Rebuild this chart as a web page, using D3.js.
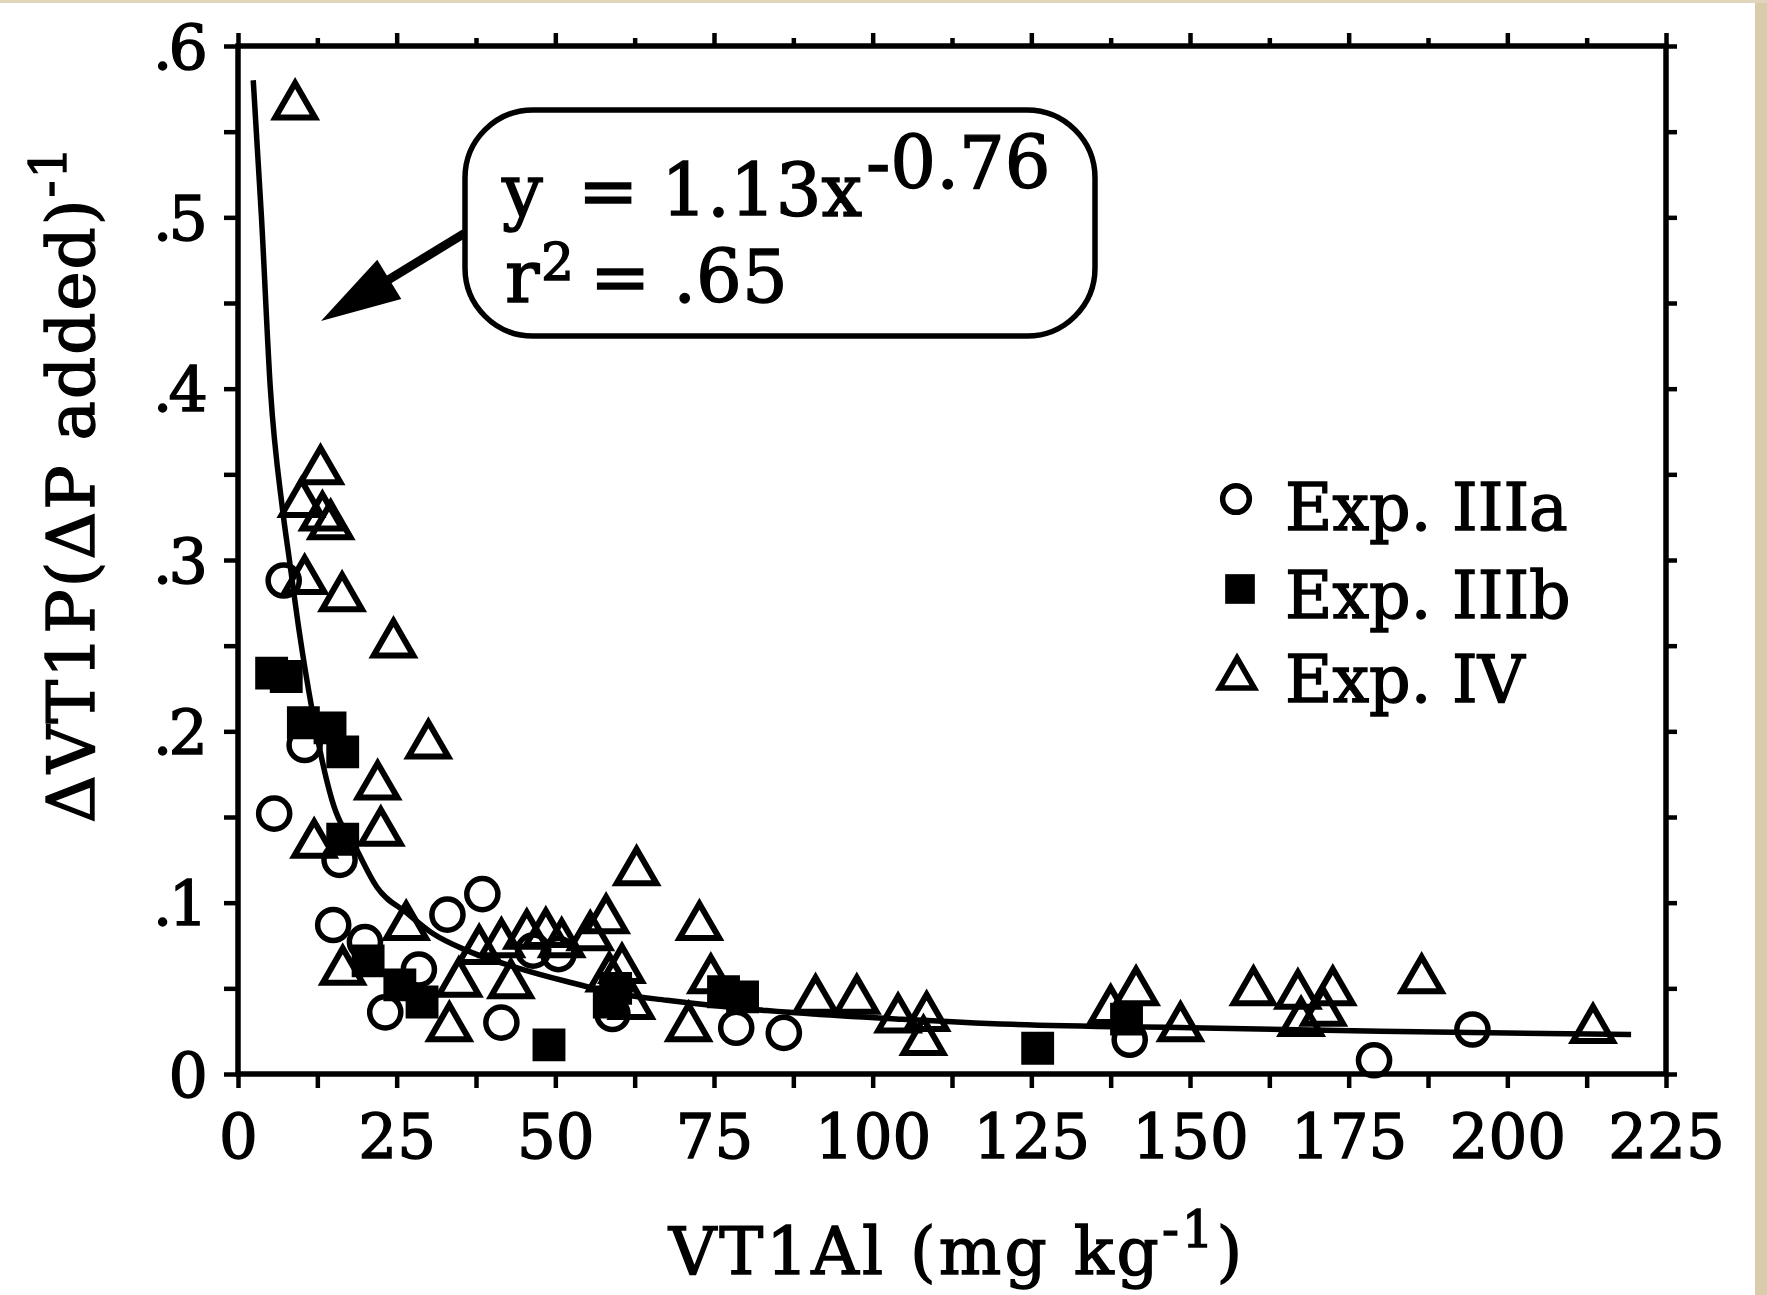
<!DOCTYPE html>
<html>
<head>
<meta charset="utf-8">
<script src="https://cdn.jsdelivr.net/npm/d3@7"></script>
<style>
	body { margin: 0; background: #fff; }
	svg text { font-family: "DejaVu Serif", serif; fill: #000; stroke: #000; stroke-width: 1.4px; }
</style>
</head>
<body>
<div id="chart-area"></div>
<script>

// SVG Size
let width = 1767,
	height = 1295;

// Data: [VT1Al, ΔVT1P(ΔP added)^-1]
let expIIIa = [
	[7.2, .288], [10.5, .192], [5.7, .152], [16.0, .125], [15.0, .087], [20.0, .077],
	[23.2, .036], [28.5, .061], [33.0, .093], [38.5, .105], [41.5, .030], [46.5, .072],
	[50.5, .070], [59.0, .035], [78.5, .027], [86.0, .024], [140.5, .020], [179.0, .008],
	[194.5, .026]
];
let expIIIb = [
	[5.3, .234], [7.6, .232], [10.3, .205], [14.5, .202], [16.5, .188], [16.5, .137],
	[20.5, .066], [25.5, .052], [29.0, .042], [49.0, .017], [58.5, .042], [59.5, .050],
	[76.5, .048], [79.5, .045], [126.0, .015], [140.0, .032]
];
let expIV = [
	[9.0, .565], [13.0, .352], [10.0, .333], [13.3, .325], [14.6, .320], [10.5, .288],
	[16.4, .278], [24.5, .251], [30.0, .192], [22.0, .168], [22.5, .141], [12.0, .134],
	[62.8, .118], [58.0, .090], [72.7, .086], [26.5, .086], [55.5, .080], [16.5, .060],
	[34.8, .053], [33.3, .027], [38.0, .072], [41.5, .076], [45.5, .081], [48.5, .082],
	[51.0, .076], [43.0, .052], [60.5, .061], [62.0, .040], [58.5, .056], [71.0, .027],
	[74.5, .055], [91.0, .043], [97.5, .043], [104.0, .032], [108.5, .033], [108.0, .019],
	[137.5, .037], [141.5, .048], [148.5, .027], [160.0, .048], [167.0, .046], [167.5, .030],
	[171.0, .036], [172.5, .048], [186.5, .055], [213.5, .026]
];
// fitted curve y = 1.13x^-0.76 as drawn in the figure
let fitCurve = [
	[2.4, .580], [3.7, .500], [5.1, .400], [7.0, .330], [8.1, .300], [9.7, .257],
	[11.6, .214], [14.8, .160], [18.7, .131], [21.9, .109], [26.6, .094], [30.7, .082],
	[36.1, .072], [44.0, .062], [51.8, .054], [59.7, .047], [67.6, .043], [83.3, .037],
	[104.6, .032], [122, .029], [150, .027], [180, .025], [219.5, .023]
];

let xTickLabels = [0, 25, 50, 75, 100, 125, 150, 175, 200, 225];
let xMinorTicks = [12.5, 37.5, 62.5, 87.5, 112.5, 137.5, 162.5, 187.5, 212.5];
let yTickLabels = [0, .1, .2, .3, .4, .5, .6];
let yMinorTicks = [.05, .15, .25, .35, .45, .55];
let legendLabels = ["Exp. IIIa", "Exp. IIIb", "Exp. IV"];

let plot = {left: 238, right: 1666, top: 46, bottom: 1074};

let svg = d3.select("#chart-area").append("svg")
	.attr("width", width)
	.attr("height", height);

svg.append("rect")
	.attr("width", width)
	.attr("height", height)
	.attr("fill", "#fff");

// scanned page edge
svg.append("rect")
	.attr("x", 1755).attr("y", 0)
	.attr("width", 12).attr("height", height)
	.attr("fill", "#d8ccab");
svg.append("rect")
	.attr("x", 0).attr("y", 0)
	.attr("width", width).attr("height", 3)
	.attr("fill", "#e0d6bb");

let XScale = d3.scaleLinear()
	.domain([0, 225])
	.range([plot.left, plot.right]);
let YScale = d3.scaleLinear()
	.domain([0, .6])
	.range([plot.bottom, plot.top]);

let allX = xTickLabels.concat(xMinorTicks).sort((a, b) => a - b);
let allY = yTickLabels.concat(yMinorTicks).sort((a, b) => a - b);

function yFmt(d) {
	if (d === 0) return "0";
	return "." + Math.round(d * 10);
}

//The Axis
let xAxis = d3.axisBottom(XScale)
	.tickValues(allX)
	.tickSize(14)
	.tickSizeOuter(0)
	.tickFormat(d => xTickLabels.includes(d) ? d : "");
let xAxisTop = d3.axisTop(XScale)
	.tickValues(allX)
	.tickSizeOuter(0)
	.tickFormat("");
let yAxis = d3.axisLeft(YScale)
	.tickValues(allY)
	.tickSize(14)
	.tickSizeOuter(0)
	.tickFormat(d => yTickLabels.includes(d) ? yFmt(d) : "");
let yAxisRight = d3.axisRight(YScale)
	.tickValues(allY)
	.tickSize(11)
	.tickSizeOuter(0)
	.tickFormat("");

let gx = svg.append("g")
	.attr("class", "axis x-axis")
	.attr("transform", "translate(0," + plot.bottom + ")")
	.call(xAxis);
gx.selectAll("text")
	.attr("y", 84)
	.attr("dy", null)
	.style("font-size", "61px");

let gxt = svg.append("g")
	.attr("class", "axis x-axis-top")
	.attr("transform", "translate(0," + plot.top + ")")
	.call(xAxisTop);
gxt.selectAll(".tick line")
	.attr("y2", d => xTickLabels.includes(d) ? -13 : -8);

let gy = svg.append("g")
	.attr("class", "axis y-axis")
	.attr("transform", "translate(" + plot.left + ",0)")
	.call(yAxis);
gy.selectAll("text")
	.attr("x", -34)
	.attr("dy", "0.36em")
	.style("font-size", "62px")
	.style("letter-spacing", "-4px");

svg.append("g")
	.attr("class", "axis y-axis-right")
	.attr("transform", "translate(" + plot.right + ",0)")
	.call(yAxisRight);

svg.selectAll(".axis .domain").remove();
svg.selectAll(".axis .tick line")
	.attr("stroke", "#000")
	.attr("stroke-width", 4.5);

svg.append("rect")
	.attr("x", plot.left)
	.attr("y", plot.top)
	.attr("width", plot.right - plot.left)
	.attr("height", plot.bottom - plot.top)
	.attr("fill", "none")
	.attr("stroke", "#000")
	.attr("stroke-width", 5.5);

// fitted curve
let line = d3.line()
	.x(d => XScale(d[0]))
	.y(d => YScale(d[1]))
	.curve(d3.curveMonotoneX);

svg.append("path")
	.datum(fitCurve)
	.attr("d", line)
	.attr("fill", "none")
	.attr("stroke", "#000")
	.attr("stroke-width", 5.5);

// markers
let circleSym = d3.symbol().type(d3.symbolCircle).size(760);
let squareSym = d3.symbol().type(d3.symbolSquare).size(1080);
let triSym = d3.symbol().type(d3.symbolTriangle).size(680);

svg.append("g").selectAll("path").data(expIIIa)
	.enter().append("path")
	.attr("d", circleSym)
	.attr("transform", d => "translate(" + XScale(d[0]) + "," + YScale(d[1]) + ")")
	.attr("fill", "none")
	.attr("stroke", "#000")
	.attr("stroke-width", 5.5);

svg.append("g").selectAll("path").data(expIV)
	.enter().append("path")
	.attr("d", triSym)
	.attr("transform", d => "translate(" + XScale(d[0]) + "," + YScale(d[1]) + ")")
	.attr("fill", "none")
	.attr("stroke", "#000")
	.attr("stroke-width", 6)
	.attr("stroke-linejoin", "miter");

svg.append("g").selectAll("path").data(expIIIb)
	.enter().append("path")
	.attr("d", squareSym)
	.attr("transform", d => "translate(" + XScale(d[0]) + "," + YScale(d[1]) + ")")
	.attr("fill", "#000");

// equation box
svg.append("rect")
	.attr("x", 465).attr("y", 110)
	.attr("width", 630).attr("height", 226)
	.attr("rx", 68).attr("ry", 68)
	.attr("fill", "#fff")
	.attr("stroke", "#000")
	.attr("stroke-width", 5.5);

let eq = svg.append("text").style("font-size", "72px");
eq.append("tspan").attr("x", 502).attr("y", 216).text("y");
eq.append("tspan").attr("x", 578).attr("y", 216).text("= 1.13x");
eq.append("tspan").attr("x", 866).attr("y", 188).text("-0.76");

let r2 = svg.append("text").style("font-size", "72px");
r2.append("tspan").attr("x", 505).attr("y", 302).text("r");
r2.append("tspan").attr("x", 541).attr("y", 280).style("font-size", "52px").text("2");
r2.append("tspan").attr("x", 590).attr("y", 302).text("= .65");

// arrow from box to curve
let tail = [465, 233],
	tip = [321, 321];
let len = Math.hypot(tail[0] - tip[0], tail[1] - tip[1]);
let ux = (tail[0] - tip[0]) / len,
	uy = (tail[1] - tip[1]) / len;
let headLen = 80,
	headW = 46;
let base = [tip[0] + ux * headLen, tip[1] + uy * headLen];

svg.append("line")
	.attr("x1", tail[0]).attr("y1", tail[1])
	.attr("x2", base[0] + ux * -10).attr("y2", base[1] + uy * -10)
	.attr("stroke", "#000")
	.attr("stroke-width", 9);

svg.append("path")
	.attr("d", "M" + tip[0] + "," + tip[1] +
		"L" + (base[0] - uy * headW / 2) + "," + (base[1] + ux * headW / 2) +
		"L" + (base[0] + uy * headW / 2) + "," + (base[1] - ux * headW / 2) + "Z")
	.attr("fill", "#000");

// legend
let legendRows = [
	{sym: d3.symbol().type(d3.symbolCircle).size(560), fill: "none", cx: 1236, cy: 499, ty: 530},
	{sym: d3.symbol().type(d3.symbolSquare).size(880), fill: "#000", cx: 1240, cy: 589, ty: 618},
	{sym: d3.symbol().type(d3.symbolTriangle).size(520), fill: "none", cx: 1237, cy: 678, ty: 702}
];

let legend = svg.append("g").attr("class", "legend");
legendRows.forEach((r, i) => {
	legend.append("path")
		.attr("d", r.sym())
		.attr("transform", "translate(" + r.cx + "," + r.cy + ")")
		.attr("fill", r.fill)
		.attr("stroke", r.fill === "none" ? "#000" : null)
		.attr("stroke-width", 5.5);
	legend.append("text")
		.attr("x", 1285)
		.attr("y", r.ty)
		.style("font-size", "65px")
		.text(legendLabels[i]);
});

// axis titles
let yTitle = svg.append("text")
	.attr("transform", "translate(94,823) rotate(-90)")
	.style("font-size", "66px")
	.style("letter-spacing", "2px");
yTitle.append("tspan").text("ΔVT1P(ΔP added)");
yTitle.append("tspan").attr("dy", -28).style("font-size", "50px").text("-1");

let xTitle = svg.append("text")
	.attr("x", (plot.left + plot.right) / 2 + 5)
	.attr("y", 1274)
	.attr("text-anchor", "middle")
	.style("font-size", "66px")
	.style("letter-spacing", "3px");
xTitle.append("tspan").text("VT1Al (mg kg");
xTitle.append("tspan").attr("dy", -27).style("font-size", "50px").text("-1");
xTitle.append("tspan").attr("dy", 27).text(")");

</script>
</body>
</html>
